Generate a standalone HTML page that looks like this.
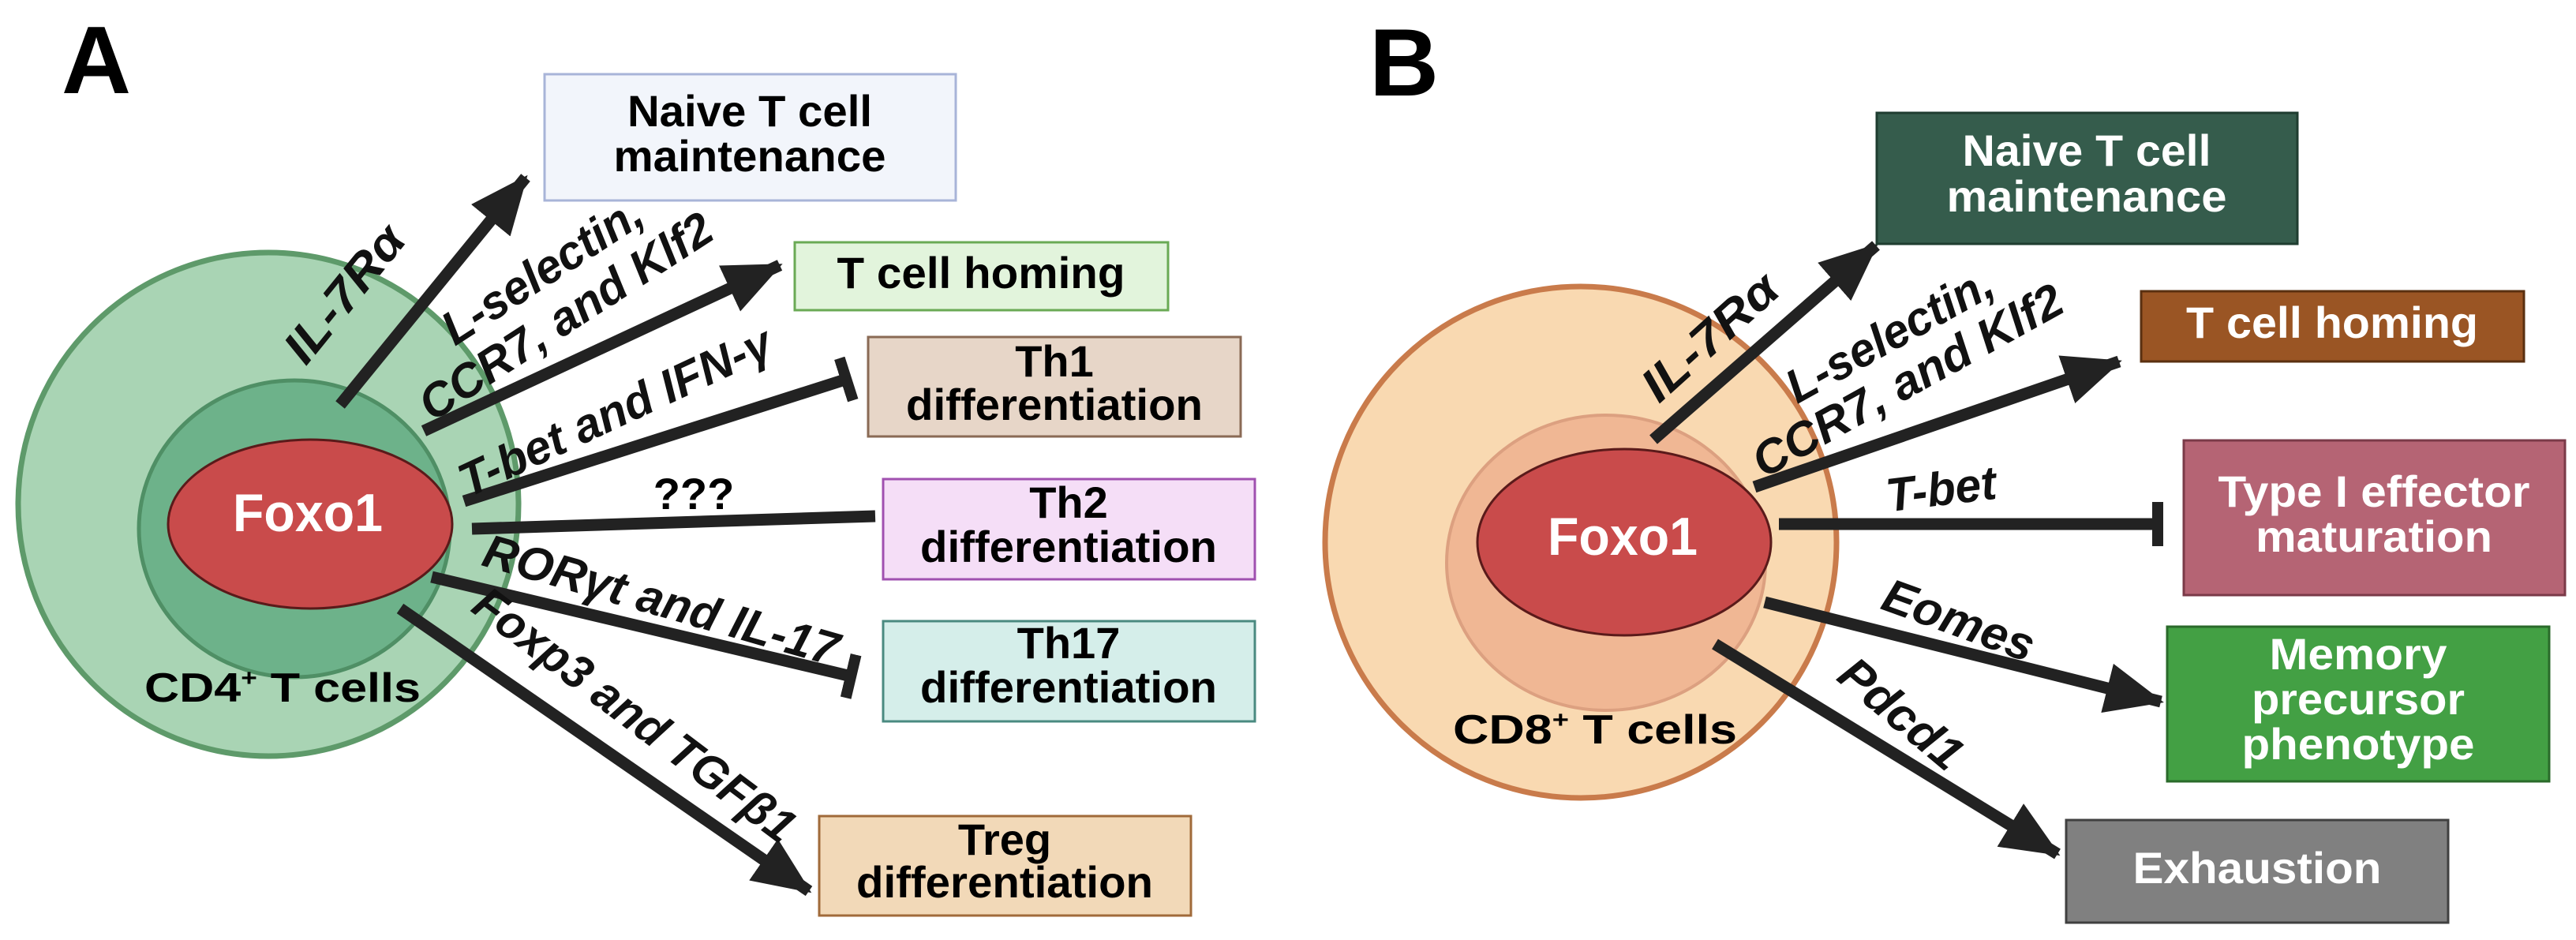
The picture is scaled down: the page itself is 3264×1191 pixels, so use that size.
<!DOCTYPE html>
<html><head><meta charset="utf-8"><style>
html,body{margin:0;padding:0;background:#fff;}
svg{display:block;}
text{font-family:"Liberation Sans",Arial,sans-serif;font-weight:bold;}
.lb{font-size:60px;font-style:italic;fill:#111;}
.bx{font-size:56px;text-anchor:middle;}
</style></head><body>
<svg width="3264" height="1191" viewBox="0 0 3264 1191" xmlns="http://www.w3.org/2000/svg">
<defs>
<marker id="ah" markerUnits="userSpaceOnUse" markerWidth="80" markerHeight="70" refX="70" refY="32" orient="auto" viewBox="0 0 80 70"><path d="M0,0 L74,32 L0,64 Z" fill="#222"/></marker>
<marker id="bar" markerUnits="userSpaceOnUse" markerWidth="16" markerHeight="70" refX="12" refY="28" orient="auto" viewBox="0 0 16 70"><rect x="0" y="0" width="14" height="56" fill="#222"/></marker>
</defs>

<!-- Panel A -->
<text x="78" y="118" font-size="122">A</text>
<ellipse cx="340" cy="639" rx="317" ry="319" fill="#a9d4b4" stroke="#5e9a6a" stroke-width="7"/>
<ellipse cx="373" cy="670" rx="197" ry="188" fill="#6db28a" stroke="#4f8f65" stroke-width="5"/>
<ellipse cx="393" cy="664" rx="180" ry="107" fill="#c94b4b" stroke="#5a1a1a" stroke-width="3"/>
<text x="390" y="673" font-size="68" fill="#fff" text-anchor="middle" textLength="190" lengthAdjust="spacingAndGlyphs">Foxo1</text>
<text x="358" y="889" font-size="52" text-anchor="middle" textLength="350" lengthAdjust="spacingAndGlyphs">CD4<tspan font-size="30" dy="-20">+</tspan><tspan dy="20"> T cells</tspan></text>

<g stroke="#222" stroke-width="15" fill="none">
<line x1="431" y1="513" x2="666" y2="225" marker-end="url(#ah)"/>
<line x1="537" y1="546" x2="988" y2="336" marker-end="url(#ah)"/>
<line x1="588" y1="635" x2="1077" y2="479" marker-end="url(#bar)"/>
<line x1="598" y1="670" x2="1109" y2="654"/>
<line x1="547" y1="731" x2="1083" y2="858" marker-end="url(#bar)"/>
<line x1="507" y1="771" x2="1025" y2="1129" marker-end="url(#ah)"/>
</g>

<text class="lb" transform="translate(452,385) rotate(-51)" text-anchor="middle" textLength="205" lengthAdjust="spacingAndGlyphs">IL-7Rα</text>
<text class="lb" transform="translate(698,360) rotate(-33)" text-anchor="middle" textLength="290" lengthAdjust="spacingAndGlyphs">L-selectin,</text>
<text class="lb" transform="translate(728,418) rotate(-33)" text-anchor="middle" textLength="430" lengthAdjust="spacingAndGlyphs">CCR7, and Klf2</text>
<text class="lb" transform="translate(788,540) rotate(-25)" text-anchor="middle" textLength="430" lengthAdjust="spacingAndGlyphs">T-bet and IFN-γ</text>
<text x="879" y="645" font-size="56" text-anchor="middle">???</text>
<text class="lb" transform="translate(832,780) rotate(16)" text-anchor="middle" textLength="465" lengthAdjust="spacingAndGlyphs">RORγt and IL-17</text>
<text class="lb" transform="translate(792,922) rotate(37)" text-anchor="middle" textLength="494" lengthAdjust="spacingAndGlyphs">Foxp3 and TGFβ1</text>

<rect x="690" y="94" width="521" height="160" fill="#f2f5fb" stroke="#a8b4d8" stroke-width="3"/>
<text class="bx" x="950" y="160" textLength="310" lengthAdjust="spacingAndGlyphs">Naive T cell</text>
<text class="bx" x="950" y="217" textLength="345" lengthAdjust="spacingAndGlyphs">maintenance</text>
<rect x="1007" y="307" width="473" height="86" fill="#e2f4dc" stroke="#6aaa55" stroke-width="3"/>
<text class="bx" x="1243" y="365" textLength="365" lengthAdjust="spacingAndGlyphs">T cell homing</text>
<rect x="1100" y="427" width="472" height="126" fill="#e7d6c8" stroke="#8a6a55" stroke-width="3"/>
<text class="bx" x="1336" y="477">Th1</text>
<text class="bx" x="1336" y="532" textLength="376" lengthAdjust="spacingAndGlyphs">differentiation</text>
<rect x="1119" y="607" width="471" height="127" fill="#f5def7" stroke="#a050b0" stroke-width="3"/>
<text class="bx" x="1354" y="656">Th2</text>
<text class="bx" x="1354" y="712" textLength="376" lengthAdjust="spacingAndGlyphs">differentiation</text>
<rect x="1119" y="787" width="471" height="127" fill="#d5eeea" stroke="#4a8a80" stroke-width="3"/>
<text class="bx" x="1354" y="834">Th17</text>
<text class="bx" x="1354" y="890" textLength="376" lengthAdjust="spacingAndGlyphs">differentiation</text>
<rect x="1038" y="1034" width="471" height="126" fill="#f2d9b8" stroke="#a06a3a" stroke-width="3"/>
<text class="bx" x="1273" y="1083">Treg</text>
<text class="bx" x="1273" y="1137" textLength="376" lengthAdjust="spacingAndGlyphs">differentiation</text>

<!-- Panel B -->
<text x="1735" y="121" font-size="122">B</text>
<ellipse cx="2003" cy="687" rx="324" ry="324" fill="#f9d9b1" stroke="#c97b4b" stroke-width="7"/>
<ellipse cx="2035" cy="713" rx="202" ry="187" fill="#f0b794" stroke="#dca080" stroke-width="4"/>
<ellipse cx="2058" cy="687" rx="186" ry="118" fill="#c94b4b" stroke="#5a1a1a" stroke-width="3"/>
<text x="2056" y="703" font-size="68" fill="#fff" text-anchor="middle" textLength="190" lengthAdjust="spacingAndGlyphs">Foxo1</text>
<text x="2021" y="942" font-size="52" text-anchor="middle" textLength="360" lengthAdjust="spacingAndGlyphs">CD8<tspan font-size="30" dy="-20">+</tspan><tspan dy="20"> T cells</tspan></text>

<g stroke="#222" stroke-width="15" fill="none">
<line x1="2095" y1="557" x2="2377" y2="311" marker-end="url(#ah)"/>
<line x1="2223" y1="617" x2="2685" y2="458" marker-end="url(#ah)"/>
<line x1="2254" y1="664" x2="2739" y2="664" marker-end="url(#bar)"/>
<line x1="2236" y1="763" x2="2738" y2="889" marker-end="url(#ah)"/>
<line x1="2173" y1="816" x2="2607" y2="1082" marker-end="url(#ah)"/>
</g>

<text class="lb" transform="translate(2180,442) rotate(-42)" text-anchor="middle" textLength="210" lengthAdjust="spacingAndGlyphs">IL-7Rα</text>
<text class="lb" transform="translate(2404,442) rotate(-29)" text-anchor="middle" textLength="290" lengthAdjust="spacingAndGlyphs">L-selectin,</text>
<text class="lb" transform="translate(2427,500) rotate(-29)" text-anchor="middle" textLength="440" lengthAdjust="spacingAndGlyphs">CCR7, and Klf2</text>
<text class="lb" transform="translate(2462,640) rotate(-7)" text-anchor="middle" textLength="140" lengthAdjust="spacingAndGlyphs">T-bet</text>
<text class="lb" transform="translate(2475,805) rotate(20)" text-anchor="middle" textLength="200" lengthAdjust="spacingAndGlyphs">Eomes</text>
<text class="lb" transform="translate(2396,920) rotate(40)" text-anchor="middle" textLength="185" lengthAdjust="spacingAndGlyphs">Pdcd1</text>

<rect x="2378" y="143" width="533" height="166" fill="#355c4c" stroke="#1f3d30" stroke-width="3"/>
<text class="bx" x="2644" y="210" fill="#fff" textLength="315" lengthAdjust="spacingAndGlyphs">Naive T cell</text>
<text class="bx" x="2644" y="268" fill="#fff" textLength="355" lengthAdjust="spacingAndGlyphs">maintenance</text>
<rect x="2713" y="369" width="485" height="89" fill="#9a5524" stroke="#5a3010" stroke-width="3"/>
<text class="bx" x="2955" y="428" fill="#fff" textLength="370" lengthAdjust="spacingAndGlyphs">T cell homing</text>
<rect x="2767" y="558" width="483" height="196" fill="#b56474" stroke="#7a3a48" stroke-width="3"/>
<text class="bx" x="3008" y="642" fill="#fff" textLength="395" lengthAdjust="spacingAndGlyphs">Type I effector</text>
<text class="bx" x="3008" y="699" fill="#fff" textLength="300" lengthAdjust="spacingAndGlyphs">maturation</text>
<rect x="2746" y="794" width="484" height="196" fill="#43a044" stroke="#2a6a2a" stroke-width="3"/>
<text class="bx" x="2988" y="848" fill="#fff" textLength="225" lengthAdjust="spacingAndGlyphs">Memory</text>
<text class="bx" x="2988" y="905" fill="#fff" textLength="270" lengthAdjust="spacingAndGlyphs">precursor</text>
<text class="bx" x="2988" y="962" fill="#fff" textLength="295" lengthAdjust="spacingAndGlyphs">phenotype</text>
<rect x="2618" y="1039" width="484" height="130" fill="#808080" stroke="#404040" stroke-width="3"/>
<text class="bx" x="2860" y="1119" fill="#fff" textLength="315" lengthAdjust="spacingAndGlyphs">Exhaustion</text>
</svg>
</body></html>
